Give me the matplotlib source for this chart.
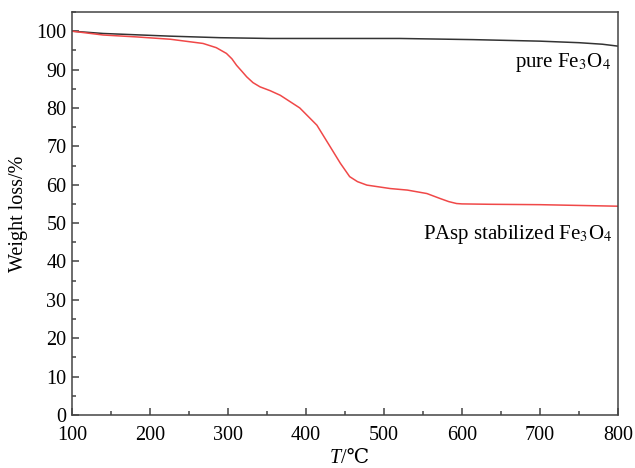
import matplotlib
matplotlib.use('Agg')
import matplotlib.pyplot as plt
from matplotlib.ticker import MultipleLocator

plt.rcParams['font.family'] = ['Liberation Serif', 'DejaVu Serif']
plt.rcParams['mathtext.fontset'] = 'stix'

#----------------------------------------------------------------------------- data
temp_pure = [100, 140, 226, 290, 354, 450, 520, 614, 700, 750, 780, 800]
loss_pure = [100, 99.4, 98.7, 98.3, 98.1, 98.1, 98.1, 97.8, 97.4, 97.0, 96.6, 96.1]

temp_pasp = [100, 140, 183, 226, 268, 285, 298, 305, 311, 318, 324, 332, 341, 354, 367, 392,
             414, 431, 444, 456, 466, 478, 508, 530, 555, 572, 583, 593, 600, 636, 700, 800]
loss_pasp = [100, 99.0, 98.5, 97.9, 96.8, 95.7, 94.2, 92.8, 91.1, 89.5, 88.1, 86.6, 85.5, 84.5, 83.3, 80.0,
             75.5, 69.9, 65.6, 62.1, 60.8, 59.9, 59.0, 58.6, 57.7, 56.4, 55.6, 55.1, 55.0, 54.9, 54.8, 54.4]

fig = plt.figure(figsize=(6.35, 4.68), dpi=100)
ax = fig.add_axes([0.1134, 0.1132, 0.8598, 0.8612])

ax.plot(temp_pure, loss_pure, color='#333333', lw=1.1)
ax.plot(temp_pasp, loss_pasp, color='#f04848', lw=1.1)

ax.set_xlim(100, 800)
ax.set_ylim(0, 105)
ax.xaxis.set_major_locator(MultipleLocator(100))
ax.xaxis.set_minor_locator(MultipleLocator(50))
ax.yaxis.set_major_locator(MultipleLocator(10))
ax.yaxis.set_minor_locator(MultipleLocator(5))
ax.tick_params(which='both', direction='in', labelsize=14.5, color='#444444', width=1.1)
ax.tick_params(which='major', length=5)
ax.tick_params(axis='x', which='major', pad=8)
ax.tick_params(axis='y', which='major', pad=4)
ax.tick_params(which='minor', length=3)
for s in ax.spines.values():
    s.set_color('#444444')
    s.set_linewidth(1.1)

ax.set_ylabel('Weight loss/%', fontsize=14.5, labelpad=6)

# x label: italic T plus the degree Celsius sign, drawn as two texts
fig.text(0.537, 0.0, 'T', style='italic', ha='right', va='bottom', fontsize=14.5)
fig.text(0.537, 0.0, '/℃', ha='left', va='bottom', fontsize=14.5)

ax.text(791, 91.9, 'pure Fe$_3$O$_4$', ha='right', va='center', fontsize=15)
ax.text(793, 46.9, 'PAsp stabilized Fe$_3$O$_4$', ha='right', va='center', fontsize=15)

fig.savefig('out.png', dpi=100)
